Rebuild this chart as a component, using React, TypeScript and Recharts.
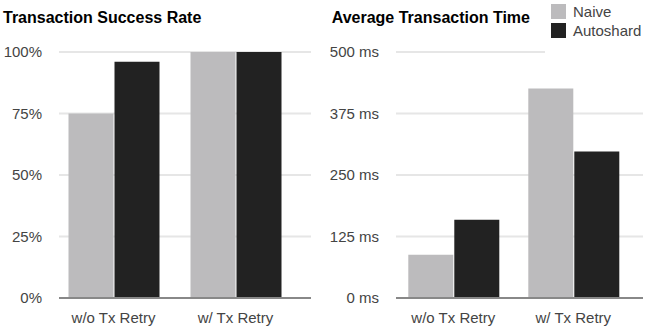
import React from "react";
import { Bar, BarChart, CartesianGrid, Legend, XAxis, YAxis } from "recharts";

const categories = ["w/o Tx Retry", "w/ Tx Retry"];
const seriesNames = ["Naive", "Autoshard"];
const naiveSuccess = [75, 100];
const autoshardSuccess = [96, 100];
const naiveTime = [88, 426];
const autoshardTime = [159, 298];
const successTicks = [0, 25, 50, 75, 100];
const timeTicks = [0, 125, 250, 375, 500];

const successData = categories.map((name, i) => ({
  name,
  naive: naiveSuccess[i],
  autoshard: autoshardSuccess[i],
}));
const timeData = categories.map((name, i) => ({
  name,
  naive: naiveTime[i],
  autoshard: autoshardTime[i],
}));

const FONT = '"Liberation Sans", Arial, sans-serif';
const NAIVE = "#bcbbbd";
const AUTO = "#222222";
const tickStyle = { fill: "#444", fontSize: 15, fontFamily: FONT };

// legend keeps the series order, not alphabetical
const renderLegend = (props: any) => {
  const items = [...(props.payload || [])].sort(
    (a: any, b: any) => seriesNames.indexOf(a.value) - seriesNames.indexOf(b.value)
  );
  return (
    <div style={{ background: "#fff", paddingTop: 4, paddingLeft: 6, height: 56, boxSizing: "border-box" }}>
      {items.map((p: any) => (
        <div key={p.value} style={{ display: "flex", alignItems: "center", height: 15, marginBottom: 4 }}>
          <div style={{ width: 15, height: 15, background: p.color, marginRight: 7 }} />
          <span style={{ fontSize: 15, color: "#444", fontFamily: FONT }}>{p.value}</span>
        </div>
      ))}
    </div>
  );
};

type PanelProps = {
  left: number;
  width: number;
  title: string;
  titleX: number;
  data: any[];
  ticks: number[];
  format: (v: number) => string;
  yWidth: number;
  marginRight: number;
  pad: { left: number; right: number };
  legend?: boolean;
};

const Panel = (p: PanelProps) => (
  <div style={{ position: "absolute", left: p.left, top: 0, width: p.width, height: 327 }}>
    <BarChart
      width={p.width}
      height={327}
      data={p.data}
      margin={{ top: 52, right: p.marginRight, bottom: 0, left: 0 }}
      barSize={45}
      barGap={1}
    >
      <CartesianGrid vertical={false} stroke="#e6e6e6" strokeWidth={2} />
      <XAxis
        dataKey="name"
        height={29}
        tickSize={0}
        tickMargin={14}
        tickLine={false}
        axisLine={{ stroke: "#888", strokeWidth: 2 }}
        padding={p.pad}
        tick={tickStyle}
      />
      <YAxis
        width={p.yWidth}
        domain={[0, p.ticks[p.ticks.length - 1]]}
        ticks={p.ticks}
        tickFormatter={p.format}
        axisLine={false}
        tickLine={false}
        tickSize={0}
        tickMargin={17}
        tick={tickStyle}
      />
      <Bar dataKey="naive" name={seriesNames[0]} fill={NAIVE} isAnimationActive={false} />
      <Bar dataKey="autoshard" name={seriesNames[1]} fill={AUTO} isAnimationActive={false} />
      {p.legend && (
        <Legend
          layout="vertical"
          align="center"
          verticalAlign="middle"
          content={renderLegend}
          wrapperStyle={{ top: 0, left: 225, width: 102, height: 56 }}
        />
      )}
    </BarChart>
    <div
      style={{
        position: "absolute",
        left: p.titleX,
        top: 8.5,
        fontFamily: FONT,
        fontWeight: "bold",
        fontSize: 16,
        color: "#000",
        whiteSpace: "nowrap",
      }}
    >
      {p.title}
    </div>
  </div>
);

export default function App() {
  return (
    <div style={{ position: "absolute", left: 0, top: 0, width: 647, height: 327, background: "#fff" }}>
      <Panel
        left={0}
        width={320}
        title="Transaction Success Rate"
        titleX={3}
        data={successData}
        ticks={successTicks}
        format={(v) => `${v}%`}
        yWidth={59}
        marginRight={9}
        pad={{ left: -6.5, right: 14.5 }}
      />
      <Panel
        left={320}
        width={327}
        title="Average Transaction Time"
        titleX={11.7}
        data={timeData}
        ticks={timeTicks}
        format={(v) => `${v} ms`}
        yWidth={76}
        marginRight={4}
        pad={{ left: -2.7, right: 9.7 }}
        legend
      />
    </div>
  );
}
